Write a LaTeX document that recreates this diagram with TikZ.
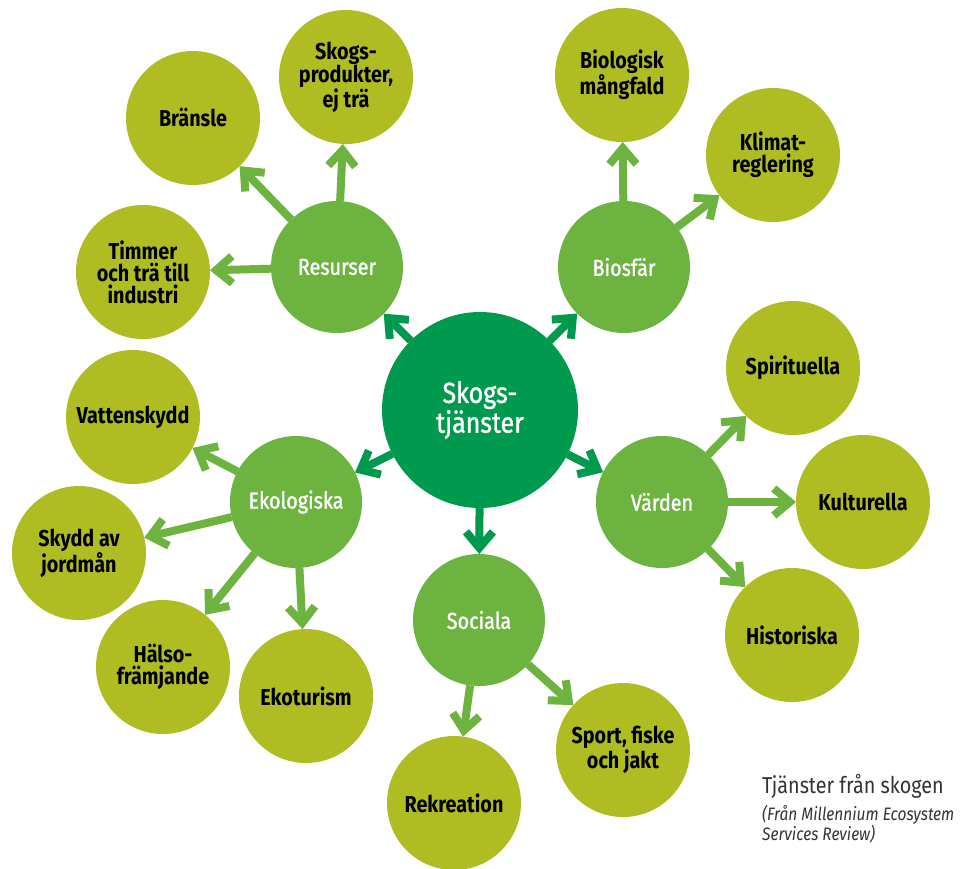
\documentclass[tikz,border=0pt]{standalone}
\usepackage{fontspec}
\setmainfont{Fira Sans}[FakeStretch=0.86]
\newfontfamily\midfont{Fira Sans}[FakeStretch=0.86,FakeBold=1.3]
\usetikzlibrary{arrows.meta}
\definecolor{rootgreen}{HTML}{009A4E}
\definecolor{subgreen}{HTML}{6CB33F}
\definecolor{leafgreen}{HTML}{AFBD22}
\definecolor{capgray}{HTML}{333333}

\begin{document}
\begin{tikzpicture}[x=1pt,y=-1pt,
  >={Straight Barb[sharp,length=16pt,width=27pt]},
  root/.style={circle,fill=rootgreen,minimum size=196pt,inner sep=0pt,outer sep=0pt,
    text=white,align=center,font=\midfont\fontsize{29}{28}\selectfont},
  sub/.style={circle,fill=subgreen,minimum size=132pt,inner sep=0pt,outer sep=0pt,
    text=white,align=center,font=\midfont\fontsize{23}{21}\selectfont},
  leaf/.style={circle,fill=leafgreen,minimum size=134pt,inner sep=0pt,outer sep=0pt,
    text=black,align=center,font=\fontsize{23}{22}\selectfont\bfseries},
  rootarrow/.style={->,draw=rootgreen,line width=8pt},
  subarrow/.style={->,draw=subgreen,line width=8pt}]

\useasboundingbox (0,0) rectangle (963,868);

% centre and the five groups
\node[root] (root) at (480,410) {Skogs-\\tjänster};
\node[sub] (resurser) at (337,267) {Resurser};
\node[sub] (biosfar) at (624,267) {Biosfär};
\node[sub] (varden) at (662,502) {Värden};
\node[sub] (sociala) at (479,620) {Sociala};
\node[sub] (ekologiska) at (296,502) {Ekologiska};

% services
\node[leaf] (bransle) at (193,118) {Bränsle};
\node[leaf] (skogsprod) at (346,77) {Skogs-\\produkter,\\ej trä};
\node[leaf] (timmer) at (143,272) {Timmer\\och trä till\\industri};
\node[leaf] (biomangfald) at (622,75) {Biologisk\\mångfald};
\node[leaf] (klimat) at (773,155) {Klimat-\\reglering};
\node[leaf] (spirituella) at (793,368) {Spirituella};
\node[leaf] (kulturella) at (863,502) {Kulturella};
\node[leaf] (historiska) at (792,635) {Historiska};
\node[leaf] (rekreation) at (454,803) {Rekreation};
\node[leaf] (sport) at (623,750) {Sport, fiske\\och jakt};
\node[leaf] (vattenskydd) at (133,417) {Vattenskydd};
\node[leaf] (jordman) at (79,553) {Skydd av\\jordmån};
\node[leaf] (halso) at (163,667) {Hälso-\\främjande};
\node[leaf] (ekoturism) at (306,696) {Ekoturism};

\draw[rootarrow] (root) -- (resurser);
\draw[rootarrow] (root) -- (biosfar);
\draw[rootarrow] (root) -- (varden);
\draw[rootarrow] (root) -- (sociala);
\draw[rootarrow] (root) -- (ekologiska);

\draw[subarrow] (resurser) -- (bransle);
\draw[subarrow] (resurser) -- (skogsprod);
\draw[subarrow] (resurser) -- (timmer);
\draw[subarrow] (biosfar) -- (biomangfald);
\draw[subarrow] (biosfar) -- (klimat);
\draw[subarrow] (varden) -- (spirituella);
\draw[subarrow] (varden) -- (kulturella);
\draw[subarrow] (varden) -- (historiska);
\draw[subarrow] (sociala) -- (rekreation);
\draw[subarrow] (sociala) -- (sport);
\draw[subarrow] (ekologiska) -- (vattenskydd);
\draw[subarrow] (ekologiska) -- (jordman);
\draw[subarrow] (ekologiska) -- (halso);
\draw[subarrow] (ekologiska) -- (ekoturism);

% caption
\node[anchor=base west,inner sep=0pt,text=capgray,font=\fontsize{23}{23}\selectfont] (caption) at (762,793) {Tjänster från skogen};
\node[anchor=base west,inner sep=0pt,text=capgray,align=left,font=\fontsize{18}{20}\selectfont\itshape] (source) at (762,840) {(Från Millennium Ecosystem\\Services Review)};

\end{tikzpicture}
\end{document}
